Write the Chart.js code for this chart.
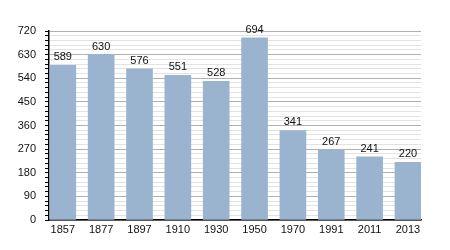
<!DOCTYPE html>
<html>
<head>
<meta charset="utf-8">
<script src="https://cdn.jsdelivr.net/npm/chart.js@4/dist/chart.umd.min.js"></script>
<style>
  html, body { margin: 0; padding: 0; background: #fff; }
  #wrap { width: 450px; height: 250px; }
</style>
</head>
<body>
<div id="wrap"><canvas id="chart"></canvas></div>
<script>
const years = ['1857', '1877', '1897', '1910', '1930', '1950', '1970', '1991', '2011', '2013'];
const population = [589, 630, 576, 551, 528, 694, 341, 267, 241, 220];
const yTicks = [0, 90, 180, 270, 360, 450, 540, 630, 720];

const barLabels = {
    id: 'barLabels',
    afterDatasetsDraw(chart) {
        const ctx = chart.ctx;
        ctx.save();
        ctx.font = '11px "Liberation Sans", Arial, sans-serif';
        ctx.fillStyle = '#111';
        ctx.textAlign = 'center';
        ctx.textBaseline = 'alphabetic';
        chart.getDatasetMeta(0).data.forEach((bar, i) => {
            ctx.fillText(String(population[i]), bar.x, bar.y - 5);
        });
        ctx.restore();
    }
};

new Chart(document.getElementById('chart').getContext('2d'), {
    type: 'bar',
    data: {
        datasets: [{
            data: population.map((v, i) => ({ x: i, y: v })),
            backgroundColor: '#9ab4d0',
            barThickness: 26
        }]
    },
    options: {
        responsive: true,
        maintainAspectRatio: false,
        animation: false,
        layout: { padding: { top: 31, right: 29, left: 0, bottom: 0 } },
        plugins: { legend: { display: false }, tooltip: { enabled: false } },
        scales: {
            x: {
                type: 'linear',
                offset: false,
                min: -0.36,
                max: 9.34,
                grid: { display: false, drawTicks: false },
                border: { color: '#000', width: 1.5 },
                ticks: {
                    stepSize: 1,
                    includeBounds: false,
                    autoSkip: false,
                    maxRotation: 0,
                    padding: 3,
                    color: '#111',
                    font: { family: '"Liberation Sans", Arial, sans-serif', size: 11 },
                    callback: v => Number.isInteger(v) ? years[v] : ''
                },
                afterFit: s => { s.height = 30; }
            },
            y: {
                min: 0,
                max: 720,
                grid: {
                    color: c => (yTicks.includes(c.tick.value) ? '#b0b0b0' : '#e2e2e2'),
                    tickColor: '#000',
                    tickLength: 4
                },
                border: { color: '#000', width: 1.5 },
                ticks: {
                    stepSize: 18,
                    autoSkip: false,
                    padding: 9,
                    color: '#111',
                    font: { family: '"Liberation Sans", Arial, sans-serif', size: 11 },
                    callback: v => (yTicks.includes(v) ? String(v) : '')
                },
                afterFit: s => { s.width = 49; }
            }
        }
    },
    plugins: [barLabels]
});
</script>
</body>
</html>
